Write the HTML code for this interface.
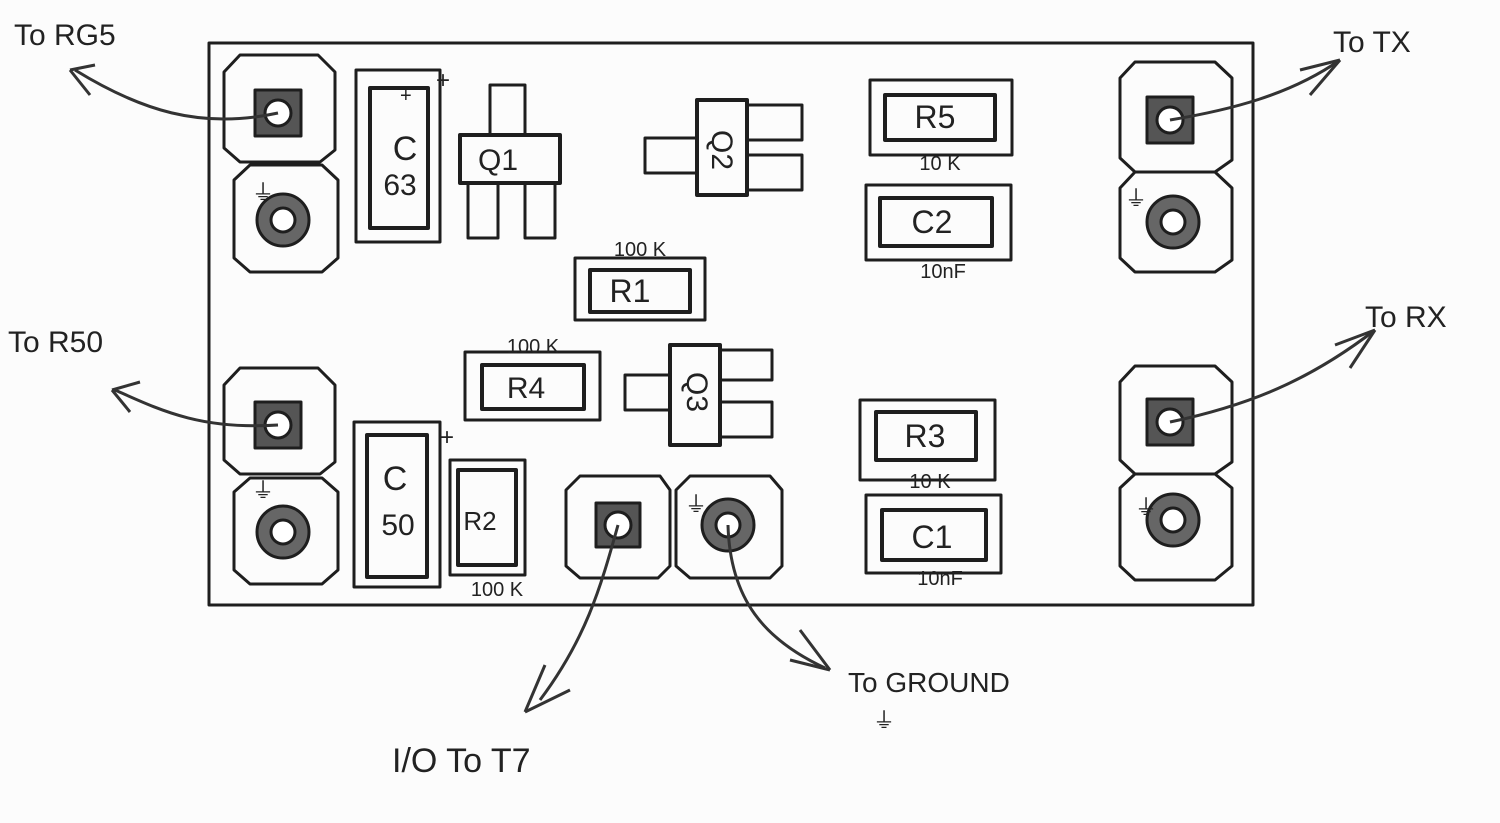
<!DOCTYPE html>
<html><head><meta charset="utf-8"><style>
html,body{margin:0;padding:0;background:#fcfcfc;}
svg{display:block;}
text{font-family:"Liberation Sans",sans-serif;fill:#222;}
</style></head><body>
<svg width="1500" height="823" viewBox="0 0 1500 823" xmlns="http://www.w3.org/2000/svg">
<rect width="1500" height="823" fill="#fcfcfc"/>
<g fill="none" stroke="#1e1e1e" stroke-width="3" stroke-linejoin="round">
<rect x="209" y="43" width="1044" height="562"/>
<path d="M240 55 L318 55 L335 72 L335 150 L320 162 L240 162 L224 148 L224 72 Z"/>
<rect x="255" y="90" width="46" height="46" fill="#555"/><circle cx="278" cy="113" r="13" fill="#fff"/>
<path d="M250 165 L322 165 L338 180 L338 258 L322 272 L250 272 L234 258 L234 180 Z"/>
<circle cx="283" cy="220" r="26" fill="#666"/><circle cx="283" cy="220" r="12" fill="#fff"/>
<path d="M240 368 L318 368 L335 385 L335 462 L320 474 L240 474 L224 460 L224 385 Z"/>
<rect x="255" y="402" width="46" height="46" fill="#555"/><circle cx="278" cy="425" r="13" fill="#fff"/>
<path d="M250 478 L322 478 L338 492 L338 570 L322 584 L250 584 L234 570 L234 492 Z"/>
<circle cx="283" cy="532" r="26" fill="#666"/><circle cx="283" cy="532" r="12" fill="#fff"/>
<path d="M1135 62 L1215 62 L1232 78 L1232 160 L1215 172 L1135 172 L1120 158 L1120 78 Z"/>
<rect x="1147" y="97" width="46" height="46" fill="#555"/><circle cx="1170" cy="120" r="13" fill="#fff"/>
<path d="M1135 172 L1215 172 L1232 188 L1232 260 L1215 272 L1135 272 L1120 258 L1120 188 Z"/>
<circle cx="1173" cy="222" r="26" fill="#666"/><circle cx="1173" cy="222" r="12" fill="#fff"/>
<path d="M1135 366 L1215 366 L1232 382 L1232 462 L1215 474 L1135 474 L1120 460 L1120 382 Z"/>
<rect x="1147" y="399" width="46" height="46" fill="#555"/><circle cx="1170" cy="422" r="13" fill="#fff"/>
<path d="M1135 474 L1215 474 L1232 488 L1232 566 L1215 580 L1135 580 L1120 566 L1120 488 Z"/>
<circle cx="1173" cy="520" r="26" fill="#666"/><circle cx="1173" cy="520" r="12" fill="#fff"/>
<path d="M580 476 L660 476 L670 490 L670 566 L658 578 L580 578 L566 566 L566 490 Z"/>
<rect x="596" y="503" width="44" height="44" fill="#555"/><circle cx="618" cy="525" r="13" fill="#fff"/>
<path d="M690 476 L770 476 L782 490 L782 566 L770 578 L690 578 L676 566 L676 490 Z"/>
<circle cx="728" cy="525" r="26" fill="#666"/><circle cx="728" cy="525" r="12" fill="#fff"/>
<rect x="356" y="70" width="84" height="172"/><rect x="370" y="88" width="58" height="140" stroke-width="4"/>
<rect x="460" y="135" width="100" height="48" stroke-width="4"/>
<rect x="490" y="85" width="35" height="50"/><rect x="468" y="183" width="30" height="55"/><rect x="525" y="183" width="30" height="55"/>
<rect x="697" y="100" width="50" height="95" stroke-width="4"/>
<rect x="645" y="138" width="52" height="35"/><rect x="747" y="105" width="55" height="35"/><rect x="747" y="155" width="55" height="35"/>
<rect x="870" y="80" width="142" height="75"/><rect x="885" y="95" width="110" height="45" stroke-width="4"/>
<rect x="866" y="185" width="145" height="75"/><rect x="880" y="198" width="112" height="48" stroke-width="4"/>
<rect x="575" y="258" width="130" height="62"/><rect x="590" y="270" width="100" height="42" stroke-width="4"/>
<rect x="465" y="352" width="135" height="68"/><rect x="482" y="365" width="102" height="44" stroke-width="4"/>
<rect x="670" y="345" width="50" height="100" stroke-width="4"/>
<rect x="625" y="375" width="45" height="35"/><rect x="720" y="350" width="52" height="30"/><rect x="720" y="402" width="52" height="35"/>
<rect x="860" y="400" width="135" height="80"/><rect x="876" y="412" width="100" height="48" stroke-width="4"/>
<rect x="866" y="495" width="135" height="78"/><rect x="882" y="510" width="104" height="50" stroke-width="4"/>
<rect x="354" y="422" width="86" height="165"/><rect x="367" y="435" width="60" height="142" stroke-width="4"/>
<rect x="450" y="460" width="75" height="115"/><rect x="458" y="470" width="58" height="95" stroke-width="4"/>
</g>
<g fill="none" stroke="#333" stroke-width="3">
<path d="M278 113 C200 130 140 110 75 70"/><path d="M70 70 L95 65 M70 70 L90 95"/>
<path d="M1170 120 C1230 110 1290 95 1340 60"/><path d="M1340 60 L1300 70 M1340 60 L1310 95"/>
<path d="M278 425 C200 430 160 410 115 390"/><path d="M112 390 L140 382 M112 390 L130 412"/>
<path d="M1170 422 C1250 405 1310 380 1375 330"/><path d="M1375 330 L1335 345 M1375 330 L1350 368"/>
<path d="M618 525 C600 590 585 640 540 700"/><path d="M525 712 L545 665 M525 712 L570 690"/>
<path d="M728 525 C730 600 765 640 825 668"/><path d="M830 670 L800 630 M830 670 L790 660"/>
</g>
<g font-size="30" text-anchor="middle">
<text x="405" y="160" font-size="34">C</text><text x="400" y="195">63</text>
<text x="498" y="170">Q1</text>
<text x="722" y="160" transform="rotate(90 722 150)">Q2</text>
<text x="935" y="128" font-size="32">R5</text>
<text x="940" y="170" font-size="20">10 K</text>
<text x="932" y="233" font-size="32">C2</text>
<text x="943" y="278" font-size="20">10nF</text>
<text x="630" y="302" font-size="32">R1</text>
<text x="640" y="256" font-size="20">100 K</text>
<text x="526" y="398" font-size="30">R4</text>
<text x="533" y="353" font-size="20">100 K</text>
<text x="695" y="400" transform="rotate(90 695 392)">Q3</text>
<text x="925" y="447" font-size="32">R3</text>
<text x="930" y="488" font-size="20">10 K</text>
<text x="932" y="548" font-size="32">C1</text>
<text x="940" y="585" font-size="20">10nF</text>
<text x="395" y="490" font-size="34">C</text><text x="398" y="535">50</text>
<text x="480" y="530" font-size="26">R2</text>
<text x="497" y="596" font-size="20">100 K</text>
</g>
<g font-size="30" fill="#222">
<text x="14" y="45">To RG5</text>
<text x="1333" y="52">To TX</text>
<text x="8" y="352">To R50</text>
<text x="1365" y="327">To RX</text>
<text x="848" y="692" font-size="28">To GROUND</text>
<text x="392" y="772" font-size="34">I/O To T7</text>
<text x="252" y="200" font-size="22">⏚</text>
<text x="252" y="498" font-size="22">⏚</text>
<text x="1125" y="206" font-size="22">⏚</text>
<text x="1135" y="515" font-size="22">⏚</text>
<text x="685" y="512" font-size="22">⏚</text>
<text x="873" y="728" font-size="22">⏚</text>
<text x="400" y="102" font-size="20">+</text>
<text x="436" y="88" font-size="24">+</text>
<text x="440" y="445" font-size="24">+</text>
</g>
</svg>
</body></html>
